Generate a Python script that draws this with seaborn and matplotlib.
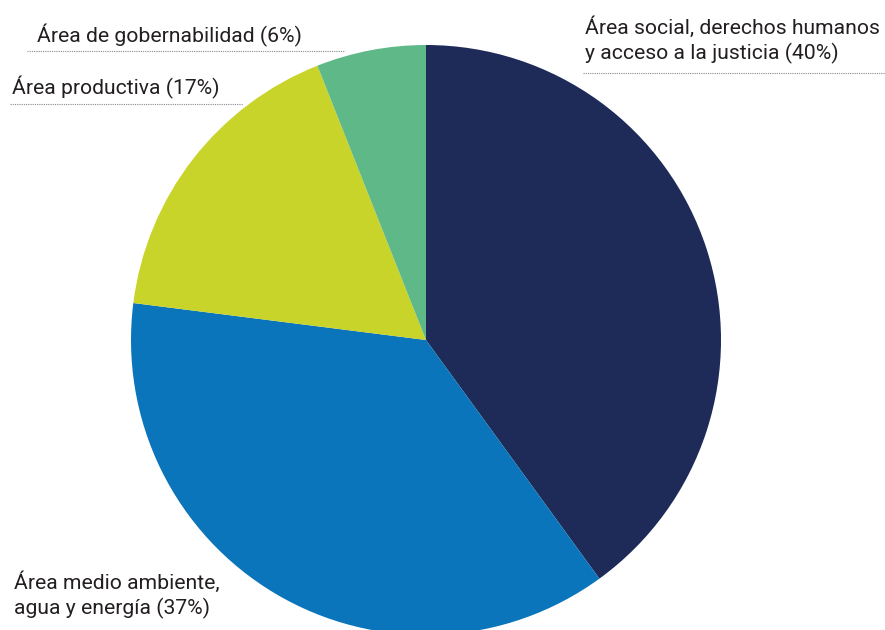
import matplotlib
matplotlib.use("Agg")
import matplotlib.pyplot as plt
import seaborn as sns

# datos del gráfico
areas = ["Área social, derechos humanos\ny acceso a la justicia (40%)",
         "Área medio ambiente,\nagua y energía (37%)",
         "Área productiva (17%)",
         "Área de gobernabilidad (6%)"]
porcentajes = [40, 37, 17, 6]
colores = ["#1e2a58", "#0a75ba", "#c9d42b", "#5fb887"]

sns.set_theme(style="white")
plt.rcParams["font.family"] = ["Roboto", "DejaVu Sans"]

W, H = 885, 630
fig = plt.figure(figsize=(W / 100, H / 100), dpi=100)
ax = fig.add_axes([0, 0, 1, 1])

ax.pie(porcentajes, colors=colores, startangle=90, counterclock=False,
       center=(426, H - 340), radius=295, wedgeprops=dict(linewidth=0))

ax.set_xlim(0, W)
ax.set_ylim(0, H)
ax.set_aspect("equal")
ax.axis("off")

txt = "#231f20"
fs = 15.2
# etiquetas con líneas punteadas
ax.text(585, H - 40, areas[0], fontsize=fs, color=txt, ha="left", va="center", linespacing=1.28)
ax.plot([583, 885], [H - 73, H - 73], ls=(0, (1, 1)), color="#888888", lw=0.8)

ax.text(14, H - 595, areas[1], fontsize=fs, color=txt, ha="left", va="center", linespacing=1.28)

ax.text(12, H - 87, areas[2], fontsize=fs, color=txt, ha="left", va="center")
ax.plot([10, 243], [H - 104, H - 104], ls=(0, (1, 1)), color="#888888", lw=0.8)

ax.text(37, H - 35, areas[3], fontsize=fs, color=txt, ha="left", va="center")
ax.plot([27, 345], [H - 51, H - 51], ls=(0, (1, 1)), color="#888888", lw=0.8)

fig.savefig("out.png", dpi=100, facecolor="white")
